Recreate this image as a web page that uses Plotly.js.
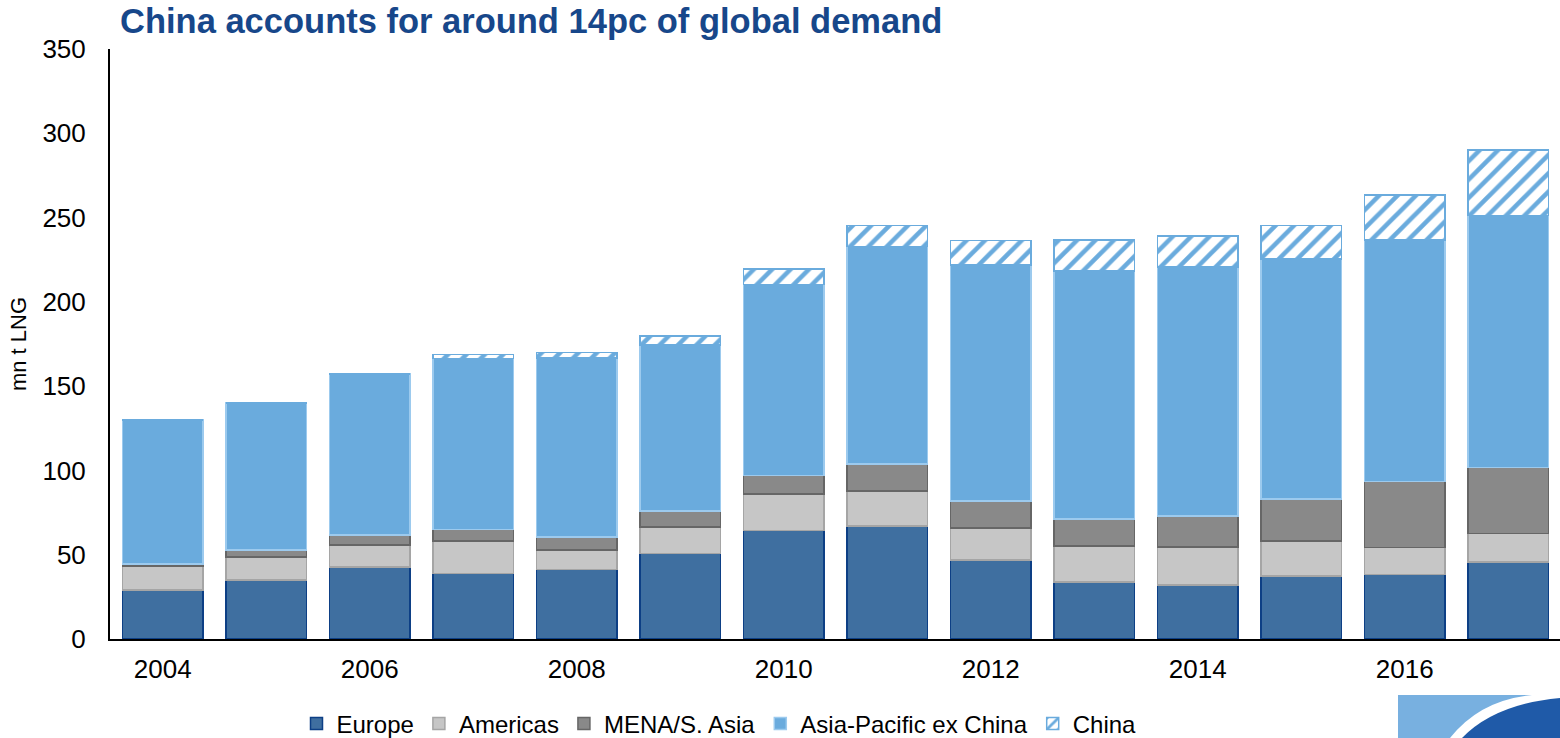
<!DOCTYPE html>
<html>
<head>
<meta charset="utf-8">
<script src="https://cdn.plot.ly/plotly-3.0.1.min.js"></script>
<style>
  html, body { margin: 0; padding: 0; background: #ffffff; }
  #chart { width: 1560px; height: 738px; }
</style>
</head>
<body>
<div id="chart"></div>
<script>
// Data (mn t LNG)
const years = [2004, 2005, 2006, 2007, 2008, 2009, 2010, 2011, 2012, 2013, 2014, 2015, 2016, 2017];
const europe      = [29.0, 35.0, 42.7, 39.0, 41.3, 50.8, 64.5, 67.0, 46.9, 33.8, 32.0, 37.4, 38.2, 45.7];
const americas    = [14.3, 13.6, 13.1, 19.0, 11.5, 15.5, 21.5, 20.8, 18.9, 21.4, 22.7, 20.6, 16.2, 17.0];
const menaSAsia   = [1.2, 4.2, 5.9, 7.0, 7.7, 9.7, 10.9, 16.0, 16.1, 16.0, 18.3, 25.0, 38.9, 39.1];
const asiaPacific = [85.5, 87.2, 95.5, 101.3, 106.3, 98.4, 113.5, 128.9, 140.1, 147.2, 147.6, 142.4, 143.4, 149.4];
const china       = [0, 0, 0, 2.5, 3.2, 5.3, 9.2, 12.7, 14.5, 18.4, 18.6, 19.8, 26.8, 38.8];
const xTickVals = [2004, 2006, 2008, 2010, 2012, 2014, 2016];
const xTickText = ["2004", "2006", "2008", "2010", "2012", "2014", "2016"];

const FONT = "Liberation Sans, Arial, sans-serif";

const traces = [
  { name: "Europe", y: europe, marker: { color: "#3f6fa0", line: { color: "#0d3f85", width: 1.5 } } },
  { name: "Americas", y: americas, marker: { color: "#c6c6c6", line: { color: "#a5a5a5", width: 1.5 } } },
  { name: "MENA/S. Asia", y: menaSAsia, marker: { color: "#898989", line: { color: "#666666", width: 1.5 } } },
  { name: "Asia-Pacific ex China", y: asiaPacific, marker: { color: "#6aabdd", line: { color: "#9ccaee", width: 1.5 } } },
  { name: "China", y: china, marker: {
      color: "#ffffff",
      line: { color: "#6aabdd", width: 1.5 },
      pattern: { shape: "/", fgcolor: "#6aabdd", bgcolor: "#ffffff", size: 13, solidity: 0.35, fillmode: "replace" }
  } }
].map(t => Object.assign({ type: "bar", x: years, hoverinfo: "x+y+name" }, t));

// pixel -> paper helpers for the decorative corner logo
const L = 110, R = 1560, T = 49, B = 639;
const px = x => (x - L) / (R - L);
const py = y => (B - y) / (B - T);

const layout = {
  width: 1560,
  height: 738,
  margin: { l: L, r: 1560 - R, t: T, b: 738 - B, autoexpand: false },
  paper_bgcolor: "#ffffff",
  plot_bgcolor: "#ffffff",
  barmode: "stack",
  bargap: 0.22,
  font: { family: FONT, color: "#000000", size: 26 },
  title: {
    text: "<b>China accounts for around 14pc of global demand</b>",
    font: { family: FONT, size: 34.5, color: "#17478a" },
    x: 120 / 1560, xanchor: "left", xref: "container",
    y: 1 - 21 / 738, yanchor: "middle", yref: "container"
  },
  xaxis: {
    range: [2003.49, 2017.5],
    tickmode: "array",
    tickvals: xTickVals,
    ticktext: xTickText,
    showline: true, linecolor: "#000000", linewidth: 2,
    showgrid: false, zeroline: false, automargin: false,
    ticks: "", ticklabelstandoff: 6,
    tickfont: { family: FONT, size: 26, color: "#000000" }
  },
  yaxis: {
    range: [0, 350],
    dtick: 50,
    showline: true, linecolor: "#000000", linewidth: 2,
    showgrid: false, zeroline: false, automargin: false,
    ticks: "", ticklabelstandoff: 17,
    tickfont: { family: FONT, size: 26, color: "#000000" },
    title: { text: "mn t LNG", font: { family: FONT, size: 22, color: "#000000" }, standoff: 10 }
  },
  legend: {
    orientation: "h",
    x: 0.42, xanchor: "center",
    y: py(724), yanchor: "middle",
    font: { family: FONT, size: 24, color: "#000000" },
    traceorder: "normal",
    itemwidth: 30,
    bgcolor: "rgba(0,0,0,0)"
  },
  shapes: [
    { type: "rect", xref: "paper", yref: "paper", x0: px(1398), x1: px(1560), y0: py(738), y1: py(695),
      fillcolor: "#78b0e0", line: { width: 0 }, layer: "above" },
    { type: "path", xref: "paper", yref: "paper",
      path: `M ${px(1450)} ${py(738)} Q ${px(1480)} ${py(700)} ${px(1532)} ${py(695)} L ${px(1560)} ${py(695)} L ${px(1560)} ${py(738)} Z`,
      fillcolor: "#ffffff", line: { width: 0 }, layer: "above" },
    { type: "path", xref: "paper", yref: "paper",
      path: `M ${px(1462)} ${py(738)} Q ${px(1495)} ${py(704)} ${px(1560)} ${py(698)} L ${px(1560)} ${py(738)} Z`,
      fillcolor: "#1f5aa8", line: { width: 0 }, layer: "above" }
  ],
  showlegend: true
};

Plotly.newPlot("chart", traces, layout, { displayModeBar: false, staticPlot: false });
</script>
</body>
</html>
